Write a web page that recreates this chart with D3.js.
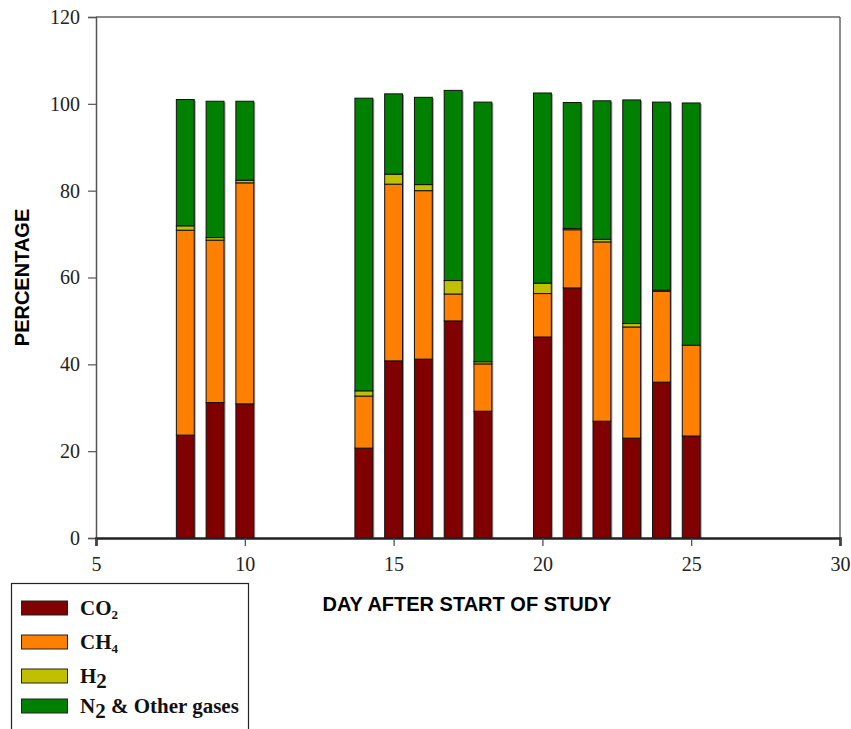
<!DOCTYPE html>
<html>
<head>
<meta charset="utf-8">
<script src="https://cdn.jsdelivr.net/npm/d3@7/dist/d3.min.js"></script>
<style>
  html, body { margin: 0; padding: 0; background: #fff; }
  svg { display: block; }
</style>
</head>
<body>
<svg id="chart" width="851" height="729"></svg>
<script>
// Gas composition (%) of the sampled gas, by day after start of study
const days = [8, 9, 10, 14, 15, 16, 17, 18, 20, 21, 22, 23, 24, 25];
const co2  = [23.7, 31.2, 30.9, 20.7, 40.8, 41.2, 50.0, 29.2, 46.3, 57.6, 26.9, 23.0, 35.9, 23.5];
const ch4  = [47.2, 37.4, 50.9, 12.0, 40.7, 38.8,  6.2, 10.9, 10.0, 13.4, 41.3, 25.6, 20.9, 20.9];
const h2   = [ 1.0,  0.6,  0.6,  1.2,  2.3,  1.4,  3.1,  0.5,  2.4,  0.3,  0.6,  0.8,  0.3,  0.0];
const n2   = [29.1, 31.4, 18.2, 67.4, 18.5, 20.1, 43.8, 59.8, 43.8, 29.0, 31.9, 51.5, 43.3, 55.8];

const xTicks = [5, 10, 15, 20, 25, 30];
const yTicks = [0, 20, 40, 60, 80, 100, 120];

const seriesKeys   = ["co2", "ch4", "h2", "n2"];
const seriesColors = ["#800000", "#FF8000", "#C0C000", "#008000"];

const rows = days.map((d, i) => ({ day: d, co2: co2[i], ch4: ch4[i], h2: h2[i], n2: n2[i] }));

const svg = d3.select("#chart");
const x = d3.scaleLinear().domain([5, 30]).range([96, 840]);
const y = d3.scaleLinear().domain([0, 120]).range([538, 17]);
const barW = x(5.6) - x(5);

const stacked = d3.stack().keys(seriesKeys)(rows);
const totals = rows.map(r => r.co2 + r.ch4 + r.h2 + r.n2);

// soft shadow on the right of each column
svg.append("g").selectAll("rect")
  .data(rows)
  .join("rect")
  .attr("x", (d) => x(d.day) - barW / 2 + 1.5)
  .attr("y", (d, i) => y(totals[i]) + 1)
  .attr("width", barW)
  .attr("height", (d, i) => y(0) - y(totals[i]) - 1)
  .attr("fill", "#9a9a9a");

// stacked columns
svg.append("g").selectAll("g")
  .data(stacked)
  .join("g")
  .attr("fill", (s, i) => seriesColors[i])
  .selectAll("rect")
  .data(s => s.filter(p => p[1] - p[0] > 0))
  .join("rect")
  .attr("x", p => x(p.data.day) - barW / 2)
  .attr("y", p => y(p[1]))
  .attr("width", barW)
  .attr("height", p => y(p[0]) - y(p[1]))
  .attr("stroke", "#111")
  .attr("stroke-width", 1);

// frame: top and right borders
svg.append("line").attr("x1", x(5)).attr("x2", x(30)).attr("y1", y(120)).attr("y2", y(120))
  .attr("stroke", "#666").attr("stroke-width", 1.5);
svg.append("line").attr("x1", x(30)).attr("x2", x(30)).attr("y1", y(120)).attr("y2", y(0))
  .attr("stroke", "#666").attr("stroke-width", 1.5);

// y axis
const yAxis = svg.append("g")
  .attr("transform", `translate(${x(5)},0)`)
  .call(d3.axisLeft(y).tickValues(yTicks).tickSize(8).tickPadding(8).tickFormat(d3.format("d")));
yAxis.select(".domain").attr("stroke", "#555").attr("stroke-width", 1.5);
yAxis.selectAll(".tick line").attr("stroke", "#555").attr("stroke-width", 1.2);
yAxis.selectAll("text")
  .attr("font-family", "'Liberation Serif', 'Times New Roman', serif")
  .attr("font-size", 20).attr("fill", "#222");

// x axis
const xAxis = svg.append("g")
  .attr("transform", `translate(0,${y(0)})`)
  .call(d3.axisBottom(x).tickValues(xTicks).tickSize(8).tickPadding(11).tickFormat(d3.format("d")));
xAxis.select(".domain").attr("stroke", "#222").attr("stroke-width", 2.5);
xAxis.selectAll(".tick line").attr("stroke", "#444").attr("stroke-width", 1.2);
xAxis.selectAll("text")
  .attr("font-family", "'Liberation Serif', 'Times New Roman', serif")
  .attr("font-size", 20).attr("fill", "#222");

// axis titles
svg.append("text")
  .attr("transform", `translate(29,${(y(0) + y(120)) / 2}) rotate(-90)`)
  .attr("text-anchor", "middle")
  .attr("font-family", "'Liberation Sans', Arial, sans-serif")
  .attr("font-weight", "bold").attr("font-size", 20)
  .text("PERCENTAGE");

svg.append("text")
  .attr("x", 467).attr("y", 611)
  .attr("text-anchor", "middle")
  .attr("font-family", "'Liberation Sans', Arial, sans-serif")
  .attr("font-weight", "bold").attr("font-size", 20)
  .text("DAY AFTER START OF STUDY");

// legend
const legend = svg.append("g");
legend.append("rect")
  .attr("x", 11.5).attr("y", 583.5).attr("width", 237).attr("height", 160)
  .attr("fill", "none").attr("stroke", "#222").attr("stroke-width", 1.2);

const legendItems = [
  { base: "CO", sub: "2", small: true },
  { base: "CH", sub: "4", small: true },
  { base: "H", sub: "2", small: false, rest: "" },
  { base: "N", sub: "2", small: false, rest: " & Other gases" }
];
const legendY = [608, 642, 676, 706];

legendItems.forEach((it, i) => {
  const cy = legendY[i];
  legend.append("rect")
    .attr("x", 21.5).attr("y", cy - 7).attr("width", 46).attr("height", 14)
    .attr("fill", seriesColors[i]).attr("stroke", "#222").attr("stroke-width", 1);
  const t = legend.append("text")
    .attr("x", 80).attr("y", cy + 7)
    .attr("font-family", "'Liberation Serif', 'Times New Roman', serif")
    .attr("font-weight", "bold").attr("font-size", 21).attr("fill", "#111");
  t.append("tspan").text(it.base);
  if (it.small) {
    t.append("tspan").attr("font-size", 13).attr("dy", 4).text(it.sub);
  } else {
    t.append("tspan").attr("dy", 5).text(it.sub);
    if (it.rest) t.append("tspan").attr("dy", -5).text(it.rest);
  }
});
</script>
</body>
</html>
